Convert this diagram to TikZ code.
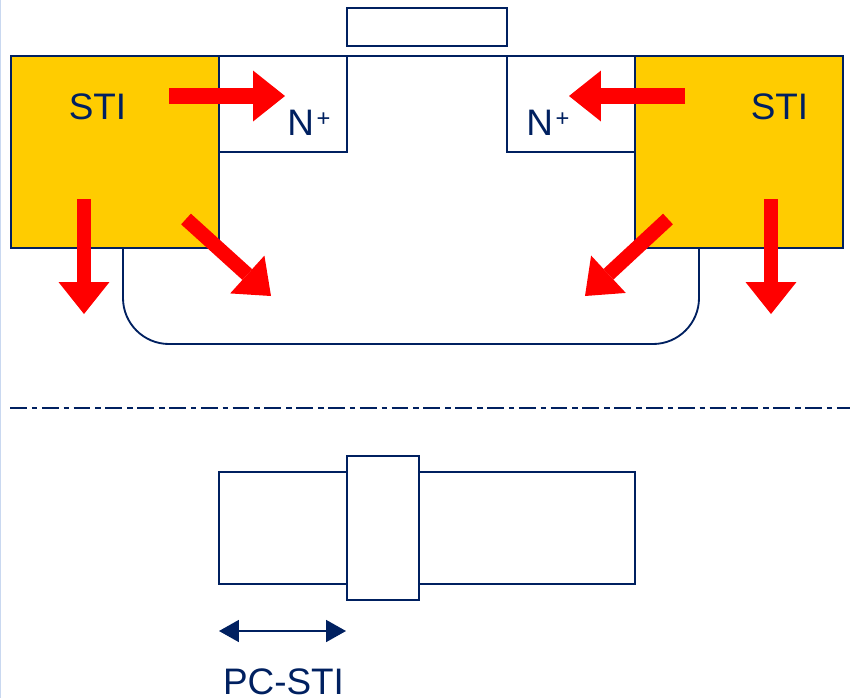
\documentclass[tikz,border=0pt]{standalone}
\usepackage{fontspec}
\usepackage{xcolor}
\setmainfont{Liberation Sans}
\usetikzlibrary{arrows.meta}
\definecolor{navyline}{HTML}{002060}
\definecolor{stiyellow}{HTML}{FFCC00}
\definecolor{stressred}{HTML}{FF0000}
\definecolor{edgeblue}{HTML}{C9D8F0}
\newcommand{\nplus}{N\hspace{1.5pt}\raisebox{5pt}{\fontsize{13.5}{14}\selectfont +}}
\tikzset{
  outline/.style={draw=navyline, line width=1.05pt},
  sti/.style={outline, fill=stiyellow},
  label/.style={text=navyline, font=\fontsize{21}{24}\selectfont, inner sep=0pt},
  stress/.style={draw=stressred, line width=0.29cm,
    -{Triangle[round, length=0.64cm, width=1.02cm, line width=0pt]}},
  stressh/.style={draw=stressred, line width=0.32cm,
    -{Triangle[round, length=0.64cm, width=1.02cm, line width=0pt]}},
  span/.style={draw=navyline, line width=1.05pt,
    {Triangle[length=0.4cm, width=0.44cm]}-{Triangle[length=0.4cm, width=0.44cm]}}
}
\begin{document}
\begin{tikzpicture}[x=0.02cm, y=-0.02cm]
    \useasboundingbox (0,0) rectangle (850,698);

    % Define coordinates for the cross section
    \coordinate (TL) at (11,56);
    \coordinate (TR) at (843,56);
    \coordinate (SL) at (219,248);
    \coordinate (SR) at (635,248);
    \coordinate (WL) at (123,248);
    \coordinate (WR) at (699,248);
    \coordinate (WB) at (411,344);

    % Page edge
    \fill [edgeblue] (0,0) rectangle (1,698);

    % Draw the gate and the N+ regions
    \draw [outline] (347,8) rectangle (507,46);
    \draw [outline] (TL) -- (TR);
    \draw [outline] (219,56) rectangle (347,152);
    \draw [outline] (507,56) rectangle (635,152);

    % Draw the well
    \draw [outline, rounded corners=0.92cm] (WL) -- (WL |- WB) -- (WR |- WB) -- (WR);

    % Draw the STI blocks
    \draw [sti] (TL) rectangle (SL);
    \draw [sti] (TR) rectangle (SR);

    % Label the regions
    \node [label, anchor=base] (stileft) at (97.5,119) {STI};
    \node [label, anchor=base] (stiright) at (779.5,119) {STI};
    \node [label, anchor=base west] (nleft) at (287,135) {\nplus};
    \node [label, anchor=base west] (nright) at (526,135) {\nplus};

    % Mark the stress
    \draw [stressh] (169,96) -- (285,96);
    \draw [stressh] (685,96) -- (569,96);
    \draw [stress] (84,199) -- (84,314);
    \draw [stress] (771,199) -- (771,314);
    \draw [stress] (186,219) -- (271,296);
    \draw [stress] (668,219) -- (585,296);

    % Section line
    \draw [navyline, line width=1.05pt, dash pattern=on 9.6pt off 2.8pt on 3.2pt off 2.5pt] (10,408) -- (850,408);

    % Draw the top view
    \draw [outline] (219,472) rectangle (635,584);
    \draw [outline, fill=white] (347,456) rectangle (419,600);

    % Mark the distance
    \coordinate (PL) at (219,631);
    \coordinate (PR) at (346,631);
    \draw [span] (PL) -- (PR);
    \node [label, anchor=base] (pcsti) at (283.5,694.5) {PC-STI};
\end{tikzpicture}
\end{document}
